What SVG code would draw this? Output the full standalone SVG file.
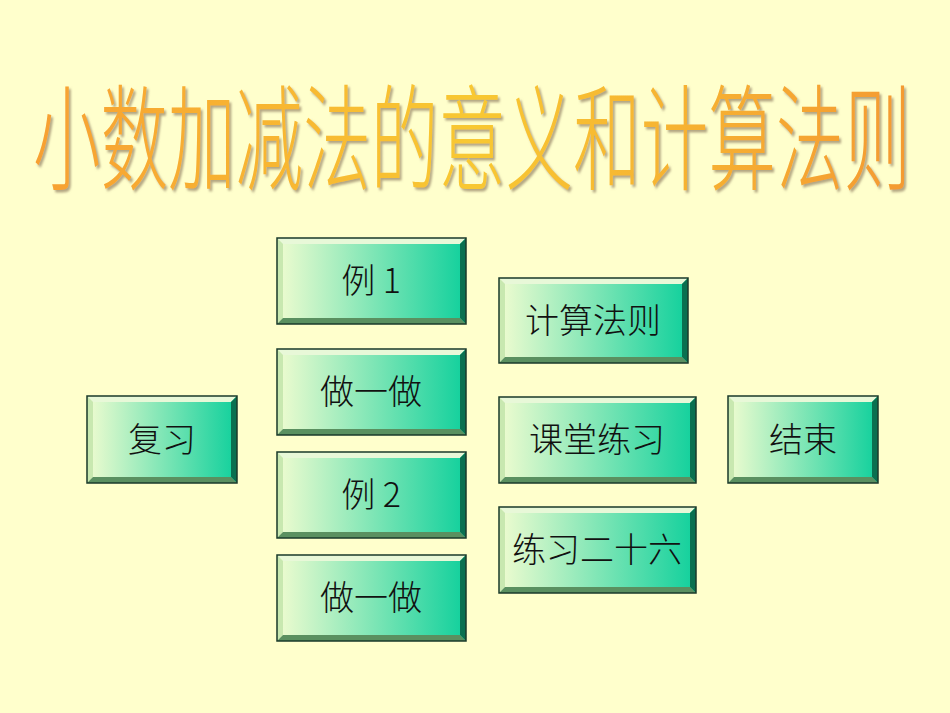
<svg xmlns="http://www.w3.org/2000/svg" width="950" height="713" viewBox="0 0 950 713">
<defs>
<linearGradient id="face" x1="0" y1="0" x2="1" y2="0"><stop offset="0" stop-color="#f0fcd0"/><stop offset="1" stop-color="#10d09c"/></linearGradient>
<linearGradient id="tg" x1="0" y1="0" x2="1" y2="0"><stop offset="0" stop-color="#f7a030"/><stop offset="0.5" stop-color="#f8c830"/><stop offset="1" stop-color="#f49a30"/></linearGradient>
<filter id="sh"><feDropShadow dx="2" dy="2" stdDeviation="0.8" flood-color="#a09070" flood-opacity="0.8"/></filter>
</defs>
<style>
.f{fill:url(#face)}
.o{fill:none;stroke:#1a3a2a;stroke-width:1.5}
.t{fill:#e8f8d8}.l{fill:#c8e8b0}.r{fill:#0a7050}.b{fill:#5a9060}
.lb{font-family:"Noto Sans CJK SC","Noto Sans",sans-serif;font-size:34px;font-weight:300;fill:#111;text-anchor:middle}
</style>
<rect width="950" height="713" fill="#ffffcc"/>
<text x="472" y="150" font-family="'Noto Sans CJK SC',sans-serif" font-weight="300" font-size="92" fill="url(#tg)" filter="url(#sh)" text-anchor="middle" textLength="878" lengthAdjust="spacingAndGlyphs" transform="translate(0,-6) scale(1,1.25)">小数加减法的意义和计算法则</text>
<g id="nodes">
<g id="b1"><rect x="277" y="238" width="189" height="86" class="f"/><polygon class="t" points="277,238 466,238 460,244 283,244"/><polygon class="l" points="277,238 283,244 283,318 277,324"/><polygon class="r" points="466,238 466,324 460,318 460,244"/><polygon class="b" points="277,324 466,324 460,318 283,318"/><rect x="277" y="238" width="189" height="86" class="o"/><text class="lb" x="371" y="293">例 1</text></g>
<g id="b2"><rect x="277" y="349" width="189" height="86" class="f"/><polygon class="t" points="277,349 466,349 460,355 283,355"/><polygon class="l" points="277,349 283,355 283,429 277,435"/><polygon class="r" points="466,349 466,435 460,429 460,355"/><polygon class="b" points="277,435 466,435 460,429 283,429"/><rect x="277" y="349" width="189" height="86" class="o"/><text class="lb" x="371" y="404">做一做</text></g>
<g id="b3"><rect x="277" y="452" width="189" height="86" class="f"/><polygon class="t" points="277,452 466,452 460,458 283,458"/><polygon class="l" points="277,452 283,458 283,532 277,538"/><polygon class="r" points="466,452 466,538 460,532 460,458"/><polygon class="b" points="277,538 466,538 460,532 283,532"/><rect x="277" y="452" width="189" height="86" class="o"/><text class="lb" x="371" y="507">例 2</text></g>
<g id="b4"><rect x="277" y="555" width="189" height="86" class="f"/><polygon class="t" points="277,555 466,555 460,561 283,561"/><polygon class="l" points="277,555 283,561 283,635 277,641"/><polygon class="r" points="466,555 466,641 460,635 460,561"/><polygon class="b" points="277,641 466,641 460,635 283,635"/><rect x="277" y="555" width="189" height="86" class="o"/><text class="lb" x="371" y="610">做一做</text></g>
<g id="b5"><rect x="499" y="278" width="189" height="85" class="f"/><polygon class="t" points="499,278 688,278 682,284 505,284"/><polygon class="l" points="499,278 505,284 505,357 499,363"/><polygon class="r" points="688,278 688,363 682,357 682,284"/><polygon class="b" points="499,363 688,363 682,357 505,357"/><rect x="499" y="278" width="189" height="85" class="o"/><text class="lb" x="593" y="333">计算法则</text></g>
<g id="b6"><rect x="499" y="397" width="197" height="86" class="f"/><polygon class="t" points="499,397 696,397 690,403 505,403"/><polygon class="l" points="499,397 505,403 505,477 499,483"/><polygon class="r" points="696,397 696,483 690,477 690,403"/><polygon class="b" points="499,483 696,483 690,477 505,477"/><rect x="499" y="397" width="197" height="86" class="o"/><text class="lb" x="597" y="452">课堂练习</text></g>
<g id="b7"><rect x="499" y="507" width="197" height="86" class="f"/><polygon class="t" points="499,507 696,507 690,513 505,513"/><polygon class="l" points="499,507 505,513 505,587 499,593"/><polygon class="r" points="696,507 696,593 690,587 690,513"/><polygon class="b" points="499,593 696,593 690,587 505,587"/><rect x="499" y="507" width="197" height="86" class="o"/><text class="lb" x="597" y="562">练习二十六</text></g>
<g id="b8"><rect x="87" y="396" width="150" height="87" class="f"/><polygon class="t" points="87,396 237,396 231,402 93,402"/><polygon class="l" points="87,396 93,402 93,477 87,483"/><polygon class="r" points="237,396 237,483 231,477 231,402"/><polygon class="b" points="87,483 237,483 231,477 93,477"/><rect x="87" y="396" width="150" height="87" class="o"/><text class="lb" x="162" y="452">复习</text></g>
<g id="b9"><rect x="728" y="396" width="150" height="87" class="f"/><polygon class="t" points="728,396 878,396 872,402 734,402"/><polygon class="l" points="728,396 734,402 734,477 728,483"/><polygon class="r" points="878,396 878,483 872,477 872,402"/><polygon class="b" points="728,483 878,483 872,477 734,477"/><rect x="728" y="396" width="150" height="87" class="o"/><text class="lb" x="803" y="452">结束</text></g>
</g>
<g id="connectors"/>
</svg>
